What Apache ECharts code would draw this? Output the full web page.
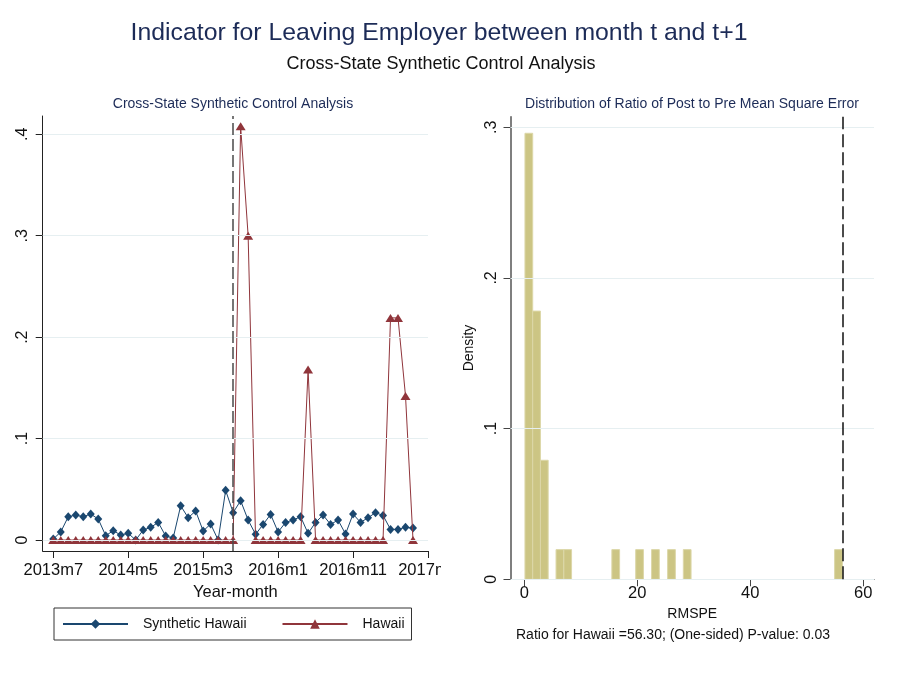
<!DOCTYPE html>
<html>
<head>
<meta charset="utf-8">
<script src="https://cdn.jsdelivr.net/npm/echarts@6/dist/echarts.min.js"></script>
<style>
  html, body { margin: 0; padding: 0; background: #ffffff; }
  #chart { width: 899px; height: 678px; }
</style>
</head>
<body>
<div id="chart"></div>
<script>
// ---- Data: monthly series (month index 0 = 2013m7, 48 = 2017m7) ----
const months = [
  '2013m7','2013m8','2013m9','2013m10','2013m11','2013m12',
  '2014m1','2014m2','2014m3','2014m4','2014m5','2014m6','2014m7','2014m8','2014m9','2014m10','2014m11','2014m12',
  '2015m1','2015m2','2015m3','2015m4','2015m5','2015m6','2015m7','2015m8','2015m9','2015m10','2015m11','2015m12',
  '2016m1','2016m2','2016m3','2016m4','2016m5','2016m6','2016m7','2016m8','2016m9','2016m10','2016m11','2016m12',
  '2017m1','2017m2','2017m3','2017m4','2017m5','2017m6','2017m7'
];
const syntheticHawaii = [
  0.001, 0.008, 0.023, 0.0246, 0.023, 0.0256, 0.0207, 0.0043, 0.0092, 0.005,
  0.0066, 0.0, 0.0099, 0.0125, 0.0174, 0.004, 0.002, 0.0338, 0.022, 0.0286,
  0.0089, 0.0158, 0.0, 0.049, 0.027, 0.0388, 0.0197, 0.0056, 0.0154, 0.0253,
  0.0079, 0.0174, 0.0197, 0.023, 0.0066, 0.0174, 0.0246, 0.0154, 0.0197, 0.006,
  0.0256, 0.0174, 0.022, 0.027, 0.0243, 0.0105, 0.0105, 0.0125, 0.0118
];
const hawaii = [
  0, 0, 0, 0, 0, 0, 0, 0, 0, 0,
  0, 0, 0, 0, 0, 0, 0, 0, 0, 0,
  0, 0, 0, 0, 0, 0.408, 0.300, 0, 0, 0,
  0, 0, 0, 0, 0.168, 0, 0, 0, 0, 0,
  0, 0, 0, 0, 0, 0.219, 0.219, 0.142, 0
];
const treatmentMonth = 24;               // 2015m7
const xTickMonths = [0, 10, 20, 30, 40, 50];
const xTickLabels = ['2013m7', '2014m5', '2015m3', '2016m1', '2016m11', '2017m9'];
const yTicksLeft = [0, 0.1, 0.2, 0.3, 0.4];

// ---- Data: histogram of post/pre RMSPE ratios ----
const histBinWidth = 1.37;
const histLeft    = [0.12, 1.49, 2.86, 5.62, 7.0, 15.5, 19.72, 22.53, 25.37, 28.15, 54.93];
const histDensity = [0.296, 0.178, 0.079, 0.0197, 0.0197, 0.0197, 0.0197, 0.0197, 0.0197, 0.0197, 0.0197];
const hawaiiRatio = 56.30;
const pValue = 0.03;
const xTicksRight = [0, 20, 40, 60];
const yTicksRight = [0, 0.1, 0.2, 0.3];

// ---- Styling ----
const FONT = '"Liberation Sans", Arial, Helvetica, sans-serif';
const NAVY = '#1a476f';
const MAROON = '#90353b';
const GRID_COLOR = '#e6eff1';
const TITLE_COLOR = '#1c2b57';

const fmtShare = v => (v === 0 ? '0' : '.' + Math.round(v * 10));

const chart = echarts.init(document.getElementById('chart'), null, { renderer: 'canvas' });

const option = {
  animation: false,
  backgroundColor: '#ffffff',
  textStyle: { fontFamily: FONT },
  graphic: [
    { type: 'text', x: 439, y: 33, z: 10,
      style: { text: 'Indicator for Leaving Employer between month t and t+1', align: 'center', verticalAlign: 'middle',
               font: '24.8px ' + FONT, fill: TITLE_COLOR } },
    { type: 'text', x: 441, y: 64, z: 10,
      style: { text: 'Cross-State Synthetic Control Analysis', align: 'center', verticalAlign: 'middle',
               font: '18px ' + FONT, fill: '#111111' } },
    { type: 'text', x: 233, y: 104, z: 10,
      style: { text: 'Cross-State Synthetic Control Analysis', align: 'center', verticalAlign: 'middle',
               font: '14px ' + FONT, fill: TITLE_COLOR } },
    { type: 'text', x: 692, y: 104, z: 10,
      style: { text: 'Distribution of Ratio of Post to Pre Mean Square Error', align: 'center', verticalAlign: 'middle',
               font: '14px ' + FONT, fill: TITLE_COLOR } },
    { type: 'text', x: 673, y: 635, z: 10,
      style: { text: 'Ratio for Hawaii =' + hawaiiRatio.toFixed(2) + '; (One-sided) P-value: ' + pValue.toFixed(2),
               align: 'center', verticalAlign: 'middle', font: '14px ' + FONT, fill: '#111111' } },
    // the left panel's region ends here, cutting off its last tick label
    { type: 'rect', z: 100, shape: { x: 441, y: 560, width: 30, height: 30 }, style: { fill: '#ffffff' } }
  ],
  legend: {
    left: 54, top: 608,
    padding: [9, 7, 9, 8],
    borderColor: '#333333', borderWidth: 1,
    backgroundColor: '#ffffff',
    itemWidth: 65, itemHeight: 12, itemGap: 35,
    textStyle: { fontSize: 14, color: '#111111', padding: [0, 0, 0, 10], fontFamily: FONT },
    data: ['Synthetic Hawaii', 'Hawaii']
  },
  grid: [
    { left: 42.7, top: 116, width: 385.3, height: 435, containLabel: false },
    { left: 510.5, top: 116.7, width: 363.5, height: 462.6, containLabel: false }
  ],
  xAxis: [
    {
      gridIndex: 0, type: 'value', min: -1.41, max: 50,
      name: 'Year-month', nameLocation: 'middle', nameGap: 29,
      nameTextStyle: { fontSize: 16.5, color: '#111111' },
      axisLine: { show: true, onZero: false, lineStyle: { color: '#222222', width: 1 } },
      axisTick: { show: true, inside: false, length: 7, customValues: xTickMonths, lineStyle: { color: '#222222' } },
      axisLabel: { show: true, margin: 11, fontSize: 16.5, color: '#111111', customValues: xTickMonths,
                   formatter: v => xTickLabels[xTickMonths.indexOf(v)] ?? '' },
      splitLine: { show: false }
    },
    {
      gridIndex: 1, type: 'value', min: -2.44, max: 61.9,
      name: 'RMSPE', nameLocation: 'middle', nameGap: 27,
      nameTextStyle: { fontSize: 14, color: '#111111' },
      axisLine: { show: true, onZero: false, lineStyle: { color: '#444444', width: 1.2 } },
      axisTick: { show: true, inside: false, length: 7, customValues: xTicksRight, lineStyle: { color: '#444444' } },
      axisLabel: { show: true, margin: 6, fontSize: 16.5, color: '#111111', customValues: xTicksRight },
      splitLine: { show: false }
    }
  ],
  yAxis: [
    {
      gridIndex: 0, type: 'value', min: -0.0108, max: 0.418,
      axisLine: { show: true, onZero: false, lineStyle: { color: '#222222', width: 1 } },
      axisTick: { show: true, inside: false, length: 7, customValues: yTicksLeft, lineStyle: { color: '#222222' } },
      axisLabel: { show: true, rotate: 90, margin: 12, fontSize: 16, color: '#111111',
                   customValues: yTicksLeft, formatter: fmtShare },
      splitLine: { show: false }
    },
    {
      gridIndex: 1, type: 'value', min: 0, max: 0.307,
      name: 'Density', nameLocation: 'middle', nameGap: 34, nameRotate: 90,
      nameTextStyle: { fontSize: 14, color: '#111111' },
      axisLine: { show: true, onZero: false, lineStyle: { color: '#555555', width: 1.5 } },
      axisTick: { show: true, inside: false, length: 7, customValues: yTicksRight, lineStyle: { color: '#444444' } },
      axisLabel: { show: true, rotate: 90, margin: 11, fontSize: 16, color: '#111111',
                   customValues: yTicksRight, formatter: fmtShare },
      splitLine: { show: false }
    }
  ],
  series: [
    // horizontal grid lines, left panel
    {
      type: 'line', xAxisIndex: 0, yAxisIndex: 0, data: [], silent: true, z: 1,
      markLine: { silent: true, symbol: 'none', label: { show: false },
                  lineStyle: { color: GRID_COLOR, type: 'solid', width: 1.2 },
                  data: yTicksLeft.map(v => ({ yAxis: v })) }
    },
    // horizontal grid lines, right panel
    {
      type: 'line', xAxisIndex: 1, yAxisIndex: 1, data: [], silent: true, z: 1,
      markLine: { silent: true, symbol: 'none', label: { show: false },
                  lineStyle: { color: GRID_COLOR, type: 'solid', width: 1.2 },
                  data: yTicksRight.map(v => ({ yAxis: v })) }
    },
    {
      name: 'Synthetic Hawaii', type: 'line', xAxisIndex: 0, yAxisIndex: 0,
      data: syntheticHawaii.map((v, i) => [i, v]),
      symbol: 'diamond', symbolSize: [8, 9], showAllSymbol: true,
      lineStyle: { color: NAVY, width: 1 },
      itemStyle: { color: NAVY },
      z: 3
    },
    {
      name: 'Hawaii', type: 'line', xAxisIndex: 0, yAxisIndex: 0,
      data: hawaii.map((v, i) => [i, v]),
      symbol: 'triangle', symbolSize: [10, 8], showAllSymbol: true,
      lineStyle: { color: MAROON, width: 1 },
      itemStyle: { color: MAROON },
      z: 4,
      markLine: { silent: true, symbol: 'none', label: { show: false },
                  lineStyle: { color: '#4a4a4a', type: [12, 4], width: 1.5 },
                  data: [{ xAxis: treatmentMonth }] }
    },
    {
      name: 'RMSPE ratio', type: 'custom', xAxisIndex: 1, yAxisIndex: 1,
      data: histLeft.map((x, i) => [x, histDensity[i]]),
      encode: { x: 0, y: 1 },
      renderItem: (params, api) => {
        const x0 = api.value(0);
        const d = api.value(1);
        const pTop = api.coord([x0, d]);
        const pBot = api.coord([x0 + histBinWidth, 0]);
        return {
          type: 'rect',
          shape: { x: pTop[0], y: pTop[1], width: pBot[0] - pTop[0], height: pBot[1] - pTop[1] },
          style: { fill: '#ccc584', stroke: '#dcd7a8', lineWidth: 1 }
        };
      },
      z: 2,
      markLine: { silent: true, symbol: 'none', label: { show: false },
                  lineStyle: { color: '#111111', type: [13, 5], width: 1.5 },
                  data: [{ xAxis: hawaiiRatio }] }
    }
  ]
};

chart.setOption(option);
</script>
</body>
</html>
